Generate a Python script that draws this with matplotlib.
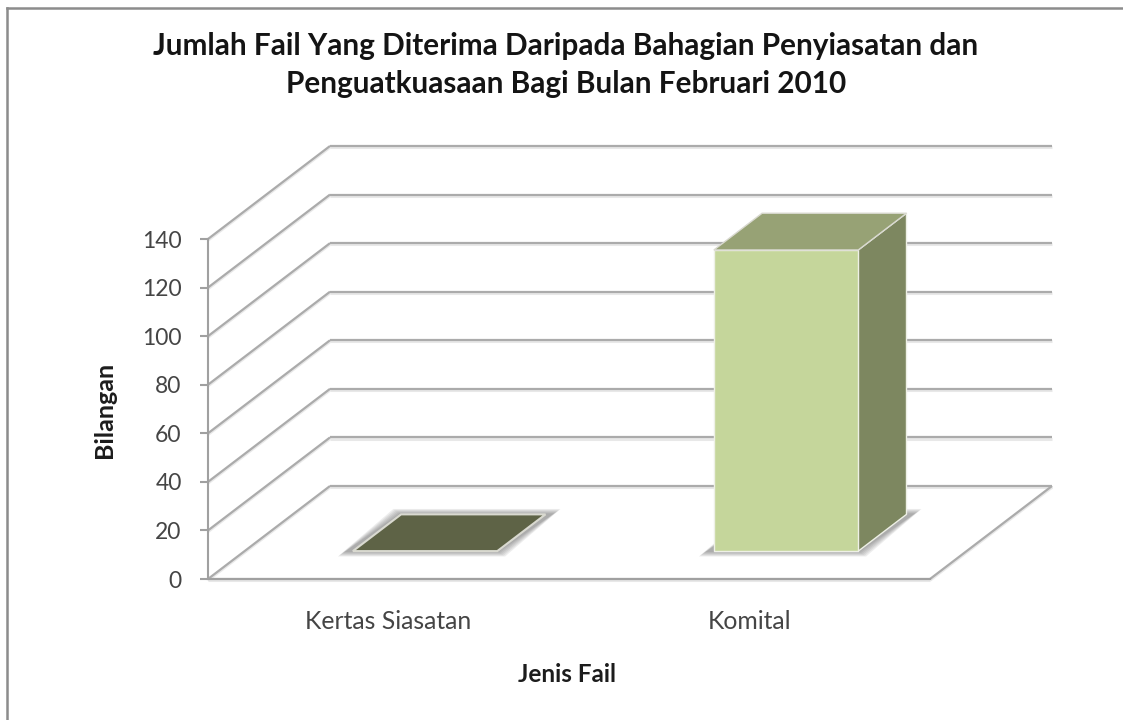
import matplotlib
matplotlib.use("Agg")
import matplotlib.pyplot as plt
from matplotlib.patches import Polygon

W, H = 1123, 720

# ---- data ----
categories = ["Kertas Siasatan", "Komital"]
values = [0, 124]
y_ticks = [0, 20, 40, 60, 80, 100, 120, 140]
title = "Jumlah Fail Yang Diterima Daripada Bahagian Penyiasatan dan\nPenguatkuasaan Bagi Bulan Februari 2010"
x_label = "Jenis Fail"
y_label = "Bilangan"
front_colors = ["#c5d69b", "#c5d69b"]
top_colors = ["#5e6346", "#97a275"]
side_colors = ["#7d8760", "#7d8760"]

# ---- layout (pixels in the reference) ----
X0, Y0 = 208, 579          # front origin of the floor
CAT_PX = 361               # pixels per category
VAL_PX = (579 - 239) / 140 # pixels per value unit
DEPTH_X, DEPTH_Y = 122, 93 # oblique offset of the back wall
BAR_W = 0.40
D_FRONT, D_BACK = 0.30, 0.695
GRID = "#ababab"
FONT = ["Lato", "DejaVu Sans"]

plt.rcParams["font.family"] = FONT
fig = plt.figure(figsize=(W / 100, H / 100), dpi=100, facecolor="white")
ax = fig.add_axes([0, 0, 1, 1], facecolor="none")
ax.set_xlim(-X0 / CAT_PX, (W - X0) / CAT_PX)
ax.set_ylim((Y0 - H) / VAL_PX, Y0 / VAL_PX)


def pt(x, v, d=0.0):
    """Category/value/depth to the axes' 2D data space (oblique projection)."""
    return (x + d * DEPTH_X / CAT_PX, v + d * DEPTH_Y / VAL_PX)


n = len(categories)
# soft line shadow helper
def soft_line(a, b, z=1, lw=1.6):
    xs, ys = zip(a, b)
    ax.plot(xs, [y - 1.2 / VAL_PX for y in ys], color="#e8e8e8", lw=lw + 0.6, zorder=z, solid_capstyle="butt")
    ax.plot(xs, ys, color=GRID, lw=lw, zorder=z + 0.1, solid_capstyle="butt")


# walls and floor
for v in y_ticks:
    soft_line(pt(0, v, 0), pt(0, v, 1))
    soft_line(pt(0, v, 1), pt(n, v, 1))
soft_line(pt(0, 0, 0), pt(n, 0, 0))
soft_line(pt(n, 0, 0), pt(n, 0, 1))

# bars
for i, val in enumerate(values):
    left, right = i + 0.5 - BAR_W / 2, i + 0.5 + BAR_W / 2
    fl = pt(left, 0, D_FRONT)
    fr = pt(right, 0, D_FRONT)
    br = pt(right, 0, D_BACK)
    bl = pt(left, 0, D_BACK)
    # blurred floor shadow
    sh_dx = 0.02
    for k in range(6, 0, -1):
        grow = k * 1.3 / CAT_PX
        gv = k * 0.9 / VAL_PX
        ax.add_patch(Polygon(
            [(fl[0] - grow - sh_dx, fl[1] - gv), (fr[0] + grow, fr[1] - gv),
             (br[0] + grow + sh_dx, br[1] + gv), (bl[0] - grow, bl[1] + gv)],
            closed=True, fc="#555555", ec="none", alpha=0.10, zorder=3))
    ftl = pt(left, val, D_FRONT)
    ftr = pt(right, val, D_FRONT)
    btr = pt(right, val, D_BACK)
    btl = pt(left, val, D_BACK)
    edge = dict(ec="#eef0e6", lw=1.0, joinstyle="round", zorder=4)
    if val > 0:
        ax.add_patch(Polygon([fr, br, btr, ftr], closed=True, fc=side_colors[i], **edge))
        ax.add_patch(Polygon([fl, fr, ftr, ftl], closed=True, fc=front_colors[i], **edge))
    ax.add_patch(Polygon([ftl, ftr, btr, btl], closed=True, fc=top_colors[i],
                         ec="#d9d9d0", lw=1.5 if val == 0 else 1.0, zorder=4.2))

# real axes: spines and ticks sit on the front plane
for s in ("top", "right"):
    ax.spines[s].set_visible(False)
ax.spines["left"].set_position(("data", 0))
ax.spines["left"].set_bounds(0, y_ticks[-1])
ax.spines["bottom"].set_position(("data", 0))
ax.spines["bottom"].set_bounds(0, n)
for s in ("left", "bottom"):
    ax.spines[s].set_color("#a0a0a0")
    ax.spines[s].set_linewidth(1.5)
ax.set_yticks(y_ticks)
ax.set_xticks([i + 0.5 for i in range(n)], categories)
ax.tick_params(axis="y", length=6, width=1.5, color="#a0a0a0", labelsize=16.5, labelcolor="#454545", pad=13)
ax.tick_params(axis="x", length=0, labelsize=17.8, labelcolor="#454545", pad=22)

ax.set_xlabel(x_label, fontsize=17.5, fontweight="bold", color="#1c1c1c")
ax.xaxis.set_label_coords(567 / W, 1 - 675 / H)
ax.xaxis.label.set_verticalalignment("center")
ax.set_ylabel(y_label, fontsize=18, fontweight="bold", color="#1c1c1c")
ax.yaxis.set_label_coords(105 / W, 1 - 410 / H)
ax.yaxis.label.set_verticalalignment("center")

fig.text(566 / W, 1 - 65 / H, title, ha="center", va="center", fontsize=21.4, fontweight="bold",
         color="#141414", linespacing=1.43)

# chart frame: only its top and left edges are in view
fig.add_artist(plt.Line2D([7 / W, 7 / W], [0, 1 - 8 / H], color="#8c8c8c", lw=1.8))
fig.add_artist(plt.Line2D([7 / W, 1], [1 - 8 / H, 1 - 8 / H], color="#8c8c8c", lw=1.8))

fig.savefig("out.png", dpi=100, facecolor="white")
